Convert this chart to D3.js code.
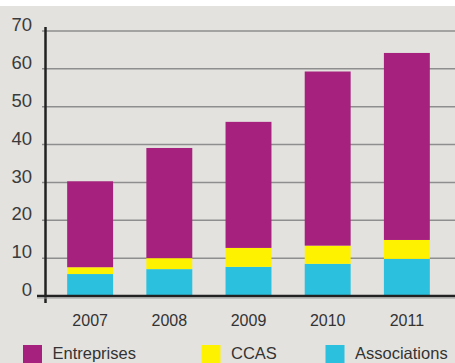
<!DOCTYPE html>
<html>
<head>
<meta charset="utf-8">
<script src="https://cdn.jsdelivr.net/npm/d3@7"></script>
<style>
  html, body { margin: 0; padding: 0; background: #ffffff; }
  svg { display: block; }
  text { font-family: "Liberation Sans", Arial, sans-serif; }
</style>
</head>
<body>
<svg id="chart" width="455" height="363"></svg>
<script>
// ---- Data ----
const years = ["2007", "2008", "2009", "2010", "2011"];
const associations = [5.8, 7.1, 7.7, 8.5, 9.8];
const ccas = [1.8, 2.9, 5.0, 4.8, 5.0];
const entreprises = [22.7, 29.1, 33.3, 46.0, 49.4];
const seriesNames = ["Associations", "CCAS", "Entreprises"];
const legendOrder = ["Entreprises", "CCAS", "Associations"];
const yTicks = [0, 10, 20, 30, 40, 50, 60, 70];

const colors = { "Entreprises": "#a6217e", "CCAS": "#fff200", "Associations": "#2ac0de" };

// ---- Setup ----
const W = 455, H = 363;
const svg = d3.select("#chart");

svg.append("rect").attr("x", 0).attr("y", 6).attr("width", W).attr("height", H - 6)
  .attr("fill", "#e3e2df");

const x = d3.scaleBand().domain(years).range([45, 452]).paddingInner(0.42).paddingOuter(0.28);
const y = d3.scaleLinear().domain([0, 70]).range([296, 31]);

// gridlines
svg.append("g").selectAll("line").data(yTicks.filter(d => d > 0)).join("line")
  .attr("x1", 42).attr("x2", W)
  .attr("y1", d => y(d)).attr("y2", d => y(d))
  .attr("stroke", "#8e8e8e").attr("stroke-width", 1.5);

// stacked bars
const table = years.map((yr, i) => ({
  year: yr,
  "Associations": associations[i],
  "CCAS": ccas[i],
  "Entreprises": entreprises[i]
}));
const stack = d3.stack().keys(seriesNames)(table);

svg.append("g").selectAll("g").data(stack).join("g")
  .attr("fill", d => colors[d.key])
  .selectAll("rect").data(d => d).join("rect")
  .attr("x", d => x(d.data.year))
  .attr("width", x.bandwidth())
  .attr("y", d => y(d[1]))
  .attr("height", d => y(d[0]) - y(d[1]));

// y axis labels
const yAxis = svg.append("g").attr("transform", "translate(32,0)")
  .call(d3.axisLeft(y).tickValues(yTicks).tickSize(0).tickPadding(0));
yAxis.select(".domain").remove();
yAxis.selectAll("text")
  .attr("font-family", "Liberation Sans, Arial, sans-serif")
  .attr("font-size", 18.5).attr("fill", "#3b3b3b")
  .attr("dy", "-0.02em");

// x axis labels
const xAxis = svg.append("g").attr("transform", `translate(0,${y(0)})`)
  .call(d3.axisBottom(x).tickSize(0).tickPadding(19));
xAxis.select(".domain").remove();
xAxis.selectAll("text")
  .attr("font-family", "Liberation Sans, Arial, sans-serif")
  .attr("font-size", 16).attr("fill", "#333333");

// axis lines
svg.append("line").attr("x1", 45.5).attr("x2", 45.5).attr("y1", 27).attr("y2", 303)
  .attr("stroke", "#222222").attr("stroke-width", 2.5);
svg.append("line").attr("x1", 37).attr("x2", W).attr("y1", y(0)).attr("y2", y(0))
  .attr("stroke", "#222222").attr("stroke-width", 2.5);
svg.append("line").attr("x1", 37).attr("x2", W).attr("y1", y(0) + 2).attr("y2", y(0) + 2)
  .attr("stroke", "#9a9a9a").attr("stroke-width", 1);

// legend
const legendX = [23, 201.5, 325.5];
const lg = svg.append("g").selectAll("g").data(legendOrder).join("g")
  .attr("transform", (d, i) => `translate(${legendX[i]},345)`);
lg.append("rect").attr("width", 19).attr("height", 18).attr("fill", d => colors[d]);
lg.append("text").attr("x", 29.5).attr("y", 14)
  .attr("font-size", 16.5).attr("fill", "#333333").text(d => d);
</script>
</body>
</html>
